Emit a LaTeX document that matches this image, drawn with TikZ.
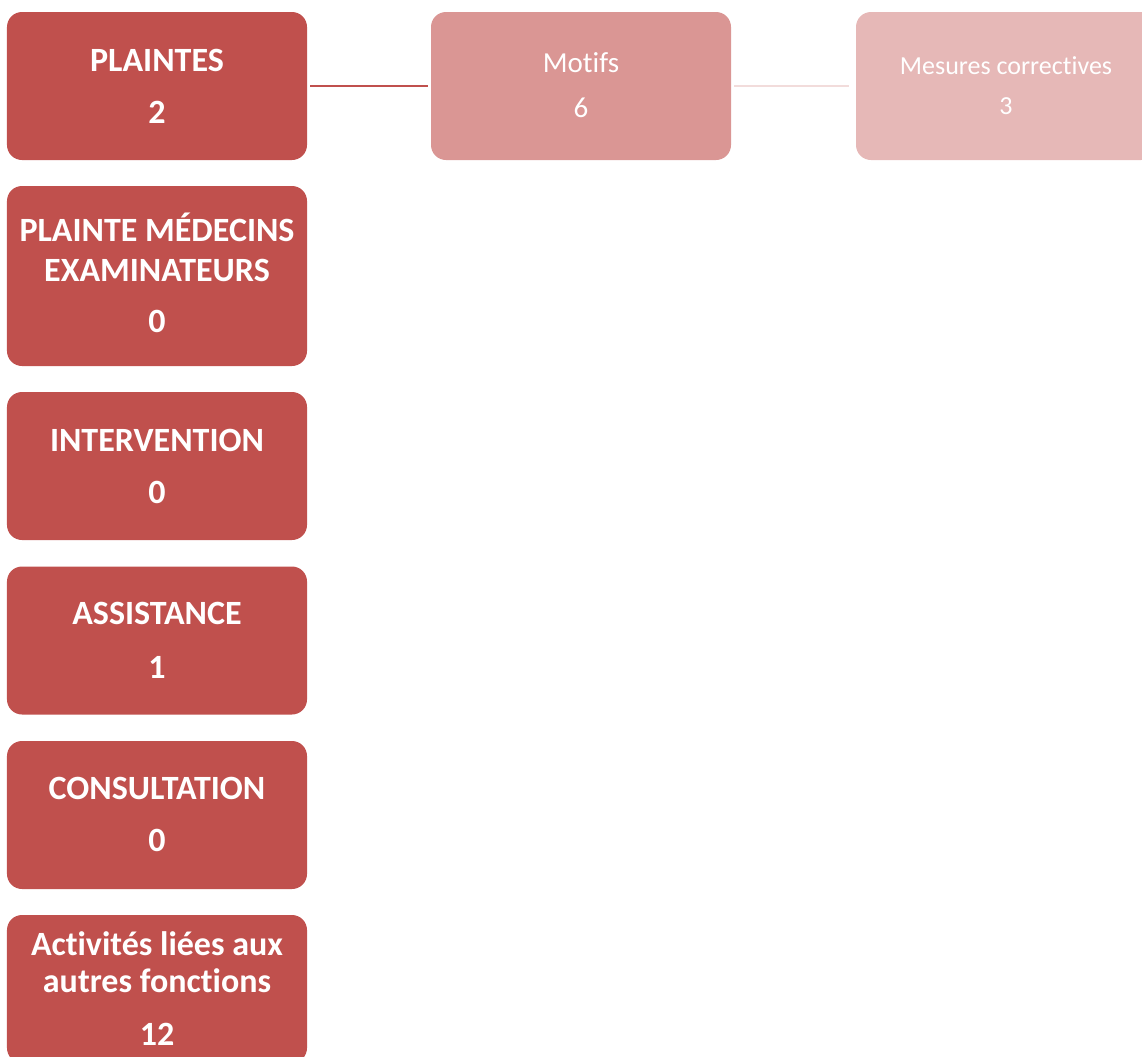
\documentclass[tikz,border=0pt]{standalone}
\usepackage{fontspec}
\setmainfont{Carlito}[Ligatures=NoCommon]
\definecolor{redA}{HTML}{C0504D}
\definecolor{redB}{HTML}{DA9694}
\definecolor{redC}{HTML}{E6B8B7}
\definecolor{lineB}{HTML}{F2DCDB}
\begin{document}
\begin{tikzpicture}[x=1bp,y=-1bp,
  box/.style={draw=none,rounded corners=15bp,minimum width=300bp,minimum height=148bp,inner sep=0pt},
  ttl/.style={anchor=base,inner sep=0pt,text=white,font=\fontsize{34bp}{40bp}\selectfont\bfseries},
  mtxt/.style={anchor=base,inner sep=0pt,text=white,font=\fontsize{29bp}{34bp}\selectfont},
  rtxt/.style={anchor=base,inner sep=0pt,text=white,font=\fontsize{26bp}{31bp}\selectfont},
  conna/.style={draw=redA,line width=2.5bp,shorten <=3bp,shorten >=3bp},
  connb/.style={draw=lineB,line width=2.5bp,shorten <=3bp,shorten >=7bp}]
\useasboundingbox (0,0) rectangle (1142,1057);
\clip (0,0) rectangle (1142,1057);
% left column
\node[box,fill=redA] (b1) at (157,86) {};
\node[box,fill=redA,minimum height=180bp] (b2) at (157,276) {};
\node[box,fill=redA] (b3) at (157,466) {};
\node[box,fill=redA] (b4) at (157,640.5) {};
\node[box,fill=redA] (b5) at (157,815) {};
\node[box,fill=redA] (b6) at (157,989) {};
% right boxes
\node[box,fill=redB] (m1) at (581,86) {};
\node[box,fill=redC] (r1) at (1006,86) {};
% connectors
\draw[conna] (b1) -- (m1);
\draw[connb] (m1) -- (r1);
% texts
\node[ttl] (t1a) at (157,71) {PLAINTES};
\node[ttl] (t1b) at (157,123) {2};
\node[ttl] (t2a) at (157,241) {PLAINTE MÉDECINS};
\node[ttl] (t2b) at (157,281) {EXAMINATEURS};
\node[ttl] (t2c) at (157,332) {0};
\node[ttl] (t3a) at (157,451) {INTERVENTION};
\node[ttl] (t3b) at (157,503) {0};
\node[ttl] (t4a) at (157,624) {ASSISTANCE};
\node[ttl] (t4b) at (157,678) {1};
\node[ttl] (t5a) at (157,799) {CONSULTATION};
\node[ttl] (t5b) at (157,851) {0};
\node[ttl] (t6a) at (157,955) {Activités liées aux};
\node[ttl] (t6b) at (157,992) {autres fonctions};
\node[ttl] (t6c) at (157,1045) {12};
\node[mtxt] (tm1) at (581,72) {Motifs};
\node[mtxt] (tm2) at (581,117) {6};
\node[rtxt] (tr1) at (1006,74) {Mesures correctives};
\node[rtxt] (tr2) at (1006,114) {3};
\end{tikzpicture}
\end{document}
